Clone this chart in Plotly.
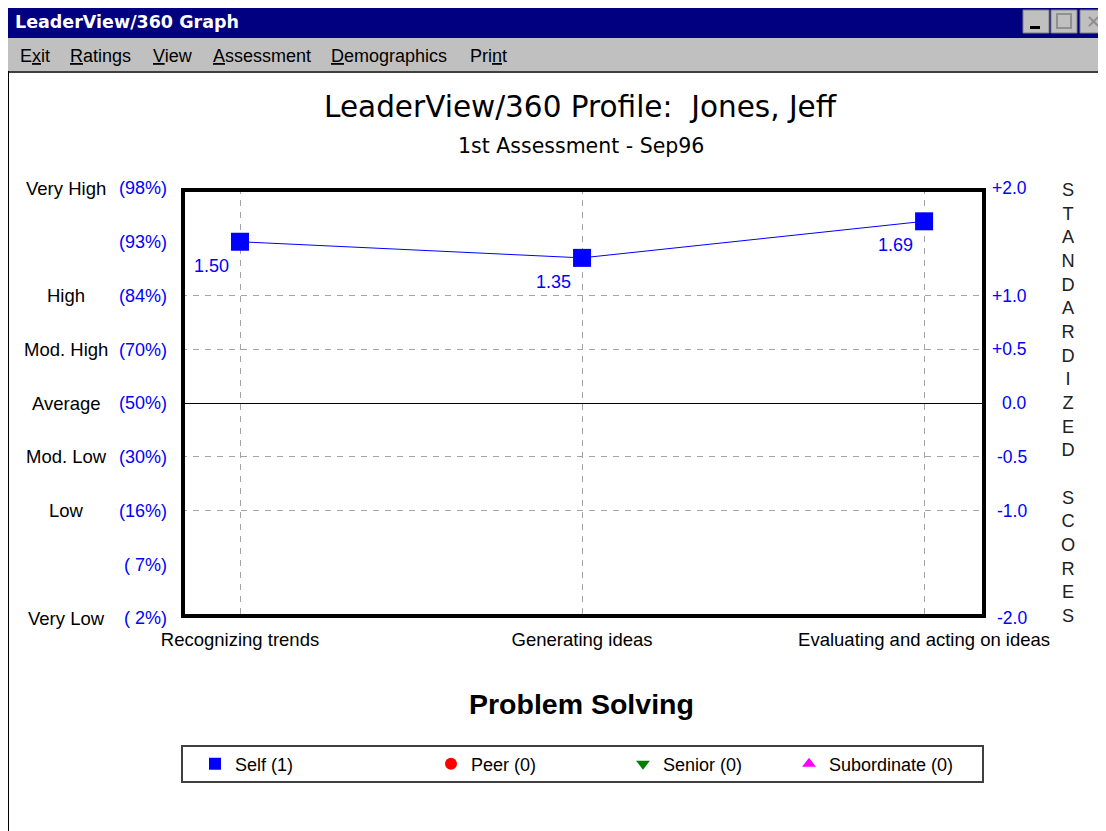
import plotly.graph_objects as go

# page is offset by the browser's 8px body margin; figure fills the rest of the window
OFF = 8
W, H = 1106 - OFF, 831 - OFF
FONT = "Liberation Sans, Arial, sans-serif"
WIDE = "DejaVu Sans, Liberation Sans, sans-serif"
BLUE = "#0000ff"
GRID = "#a4a4a4"

# ---------------- data ----------------
categories = ["Recognizing trends", "Generating ideas", "Evaluating and acting on ideas"]
self_scores = [1.50, 1.35, 1.69]

left_tickvals = [2.0, 1.5, 1.0, 0.5, 0.0, -0.5, -1.0, -1.5, -2.0]
left_pct_text = ["(98%)", "(93%)", "(84%)", "(70%)", "(50%)", "(30%)", "(16%)", "( 7%)", "( 2%)"]
left_words = ["Very High", "", "High", "Mod. High", "Average", "Mod. Low", "Low", "", "Very Low"]

right_tickvals = [2.0, 1.0, 0.5, 0.0, -0.5, -1.0, -2.0]
right_ticktext = ["+2.0", "+1.0", "+0.5", "0.0", "-0.5", "-1.0", "-2.0"]
grid_vals = [1.0, 0.5, -0.5, -1.0]

legend_names = ["Self (1)", "Peer (0)", "Senior (0)", "Subordinate (0)"]
legend_colors = [BLUE, "#ff0000", "#008000", "#ff00ff"]
legend_symbols = ["square", "circle", "triangle-down", "triangle-up"]
menu_items = ["E<u>x</u>it", "<u>R</u>atings", "<u>V</u>iew", "<u>A</u>ssessment",
              "<u>D</u>emographics", "Pri<u>n</u>t"]
menu_x = [18, 68, 151, 211, 329, 468]
legend_sym_x = [215, 451, 643, 809]


def px(x):
    return (x - OFF) / W


def py(y):
    return 1 - (y - OFF) / H


fig = go.Figure()

# line
fig.add_trace(go.Scatter(x=categories, y=self_scores, mode="lines",
                         line=dict(color=BLUE, width=1), showlegend=False, hoverinfo="skip"))
# series markers + legend entries
legend_keys = ["legend", "legend2", "legend3", "legend4"]
for i, name in enumerate(legend_names):
    if i == 0:
        xs, ys = categories, self_scores
    else:
        xs, ys = [None], [None]
    fig.add_trace(go.Scatter(x=xs, y=ys, mode="markers", name=name,
                             marker=dict(symbol=legend_symbols[i], size=18,
                                         color=legend_colors[i], line=dict(width=0)),
                             legend=legend_keys[i], hoverinfo="skip"))

annotations = []


def ann(text, x, y, xref="paper", yref="paper", xanchor="center", yanchor="middle",
        family=FONT, size=18, color="black", **kw):
    annotations.append(dict(text=text, x=x, y=y, xref=xref, yref=yref, xanchor=xanchor,
                            yanchor=yanchor, showarrow=False,
                            font=dict(family=family, size=size, color=color), **kw))


# value labels (bottom-left of each point)
for c, v in zip(categories, self_scores):
    ann(f"{v:.2f}", c, v, xref="x", yref="y", xanchor="right", yanchor="middle",
        xshift=-9, yshift=-24, size=18, color=BLUE)

# title / subtitle
ann("LeaderView/360 Profile:  Jones, Jeff", px(580), py(107), family=WIDE, size=29.5)
ann("1st Assessment - Sep96", px(581), py(146), family=WIDE, size=20.5)
ann("<b>Problem Solving</b>", px(581), py(704), size=28.5)
# left words
for v, w in zip(left_tickvals, left_words):
    if w:
        ann(w, px(66), v, yref="y", size=18.5)
# right labels
for v, t in zip(right_tickvals, right_ticktext):
    ann(t, px(1029), v, yref="y", xanchor="right", size=17.5, color=BLUE)
# vertical STANDARDIZED SCORES
ann("<br>".join(list("STANDARDIZED") + [" "] + list("SCORES")), px(1068), py(178),
    yanchor="top", size=18.2, color="#202020", align="center")
# window chrome text
ann("<b>LeaderView/360 Graph</b>", px(13), py(22), xanchor="left", family=WIDE,
    size=17.5, color="white")
for t, x in zip(menu_items, menu_x):
    ann(t, px(x), py(56), xanchor="left", size=18)
ann("✕", px(1093), py(22), family="DejaVu Sans", size=18, color="#8c8c8c")

shapes = []


def rect(x0, y0, x1, y1, fill=None, line_color=None, lw=0, layer="below"):
    shapes.append(dict(type="rect", xref="paper", yref="paper",
                       x0=px(x0), x1=px(x1), y0=py(y1), y1=py(y0),
                       fillcolor=fill if fill else "rgba(0,0,0,0)",
                       line=dict(color=line_color if line_color else "rgba(0,0,0,0)", width=lw),
                       layer=layer))


rect(7, 6, 1106, 38, fill="#000080")
rect(7, 38, 1106, 71, fill="#c0c0c0")
rect(7, 71, 1106, 73, fill="#404040")
rect(7, 71, 9, 831, fill="#000000")
# title buttons
for bx0, bx1 in [(1023, 1049), (1051, 1077), (1080, 1106)]:
    rect(bx0, 10, bx1, 33, fill="#c0c0c0", line_color="#808080", lw=1)
rect(1030, 26, 1040, 29, fill="#000000", layer="above")
rect(1057, 14, 1071, 28, line_color="#909090", lw=2, layer="above")
# legend box
rect(182, 746, 983, 782, line_color="#404040", lw=2)
# plot border (thick)
shapes.append(dict(type="rect", xref="x domain", yref="y domain",
                   x0=2 / 805, x1=1 - 2 / 805, y0=2 / 430, y1=1 - 2 / 430,
                   line=dict(color="black", width=4), layer="above"))

layout_legends = {}
for i, key in enumerate(legend_keys):
    layout_legends[key] = dict(x=px(legend_sym_x[i] - 20), y=py(764), xanchor="left",
                               yanchor="middle", orientation="h", bgcolor="rgba(0,0,0,0)",
                               borderwidth=0, itemsizing="constant",
                               font=dict(family=FONT, size=18, color="black"))

fig.update_layout(
    width=W, height=H, margin=dict(l=0, r=0, t=0, b=0, autoexpand=False),
    paper_bgcolor="white", plot_bgcolor="white",
    font=dict(family=FONT),
    xaxis=dict(domain=[px(181), px(986)], range=[-0.1725, 2.181], type="category",
               automargin=False,
               showgrid=True, gridcolor=GRID, griddash="6px,6px", gridwidth=1,
               ticks="", ticklabelstandoff=8, zeroline=False, showline=False,
               tickfont=dict(family=FONT, size=18.5, color="black")),
    yaxis=dict(domain=[py(618), py(188)], range=[-2, 2], tickvals=left_tickvals,
               ticktext=left_pct_text, automargin=False,
               showgrid=False, zeroline=True, zerolinecolor="black", zerolinewidth=1,
               ticks="", ticklabelstandoff=13, showline=False,
               tickfont=dict(family=FONT, size=18, color=BLUE),
               minor=dict(tickvals=grid_vals, showgrid=True, gridcolor=GRID,
                          griddash="6px,6px", gridwidth=1, ticks="")),
    annotations=annotations, shapes=shapes,
    **layout_legends,
)

fig.write_html("out.html")
